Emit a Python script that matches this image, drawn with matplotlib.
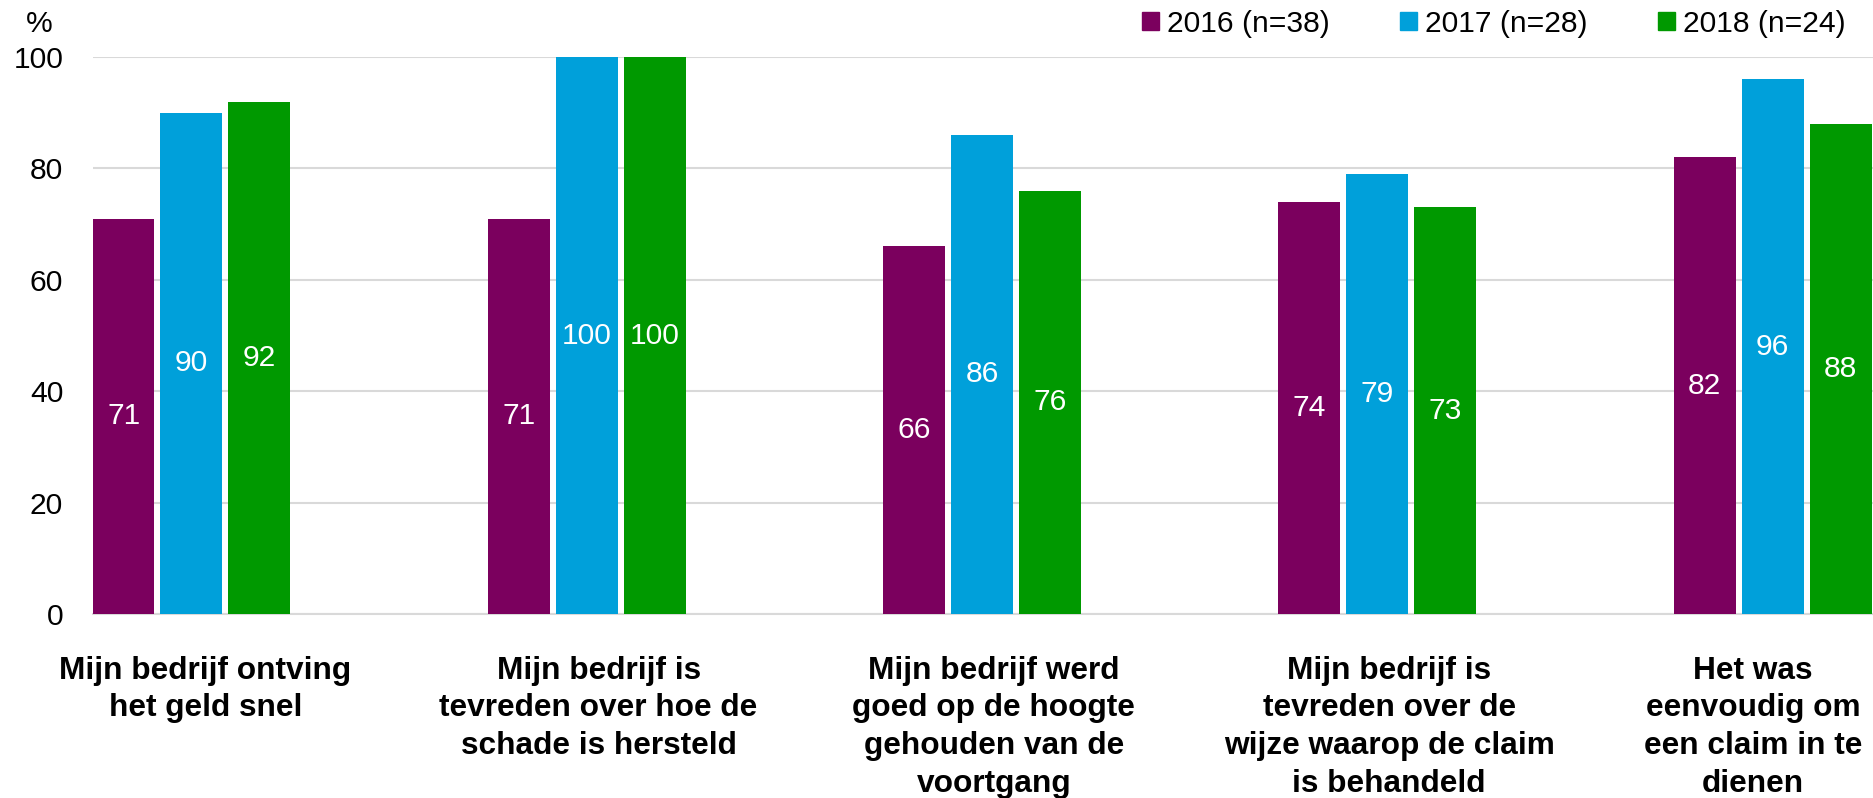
import matplotlib
matplotlib.use('Agg')
import matplotlib.pyplot as plt
from matplotlib.patches import Rectangle
import numpy as np

# dados do gráfico
categorias = [
    'Mijn bedrijf ontving\nhet geld snel',
    'Mijn bedrijf is\ntevreden over hoe de\nschade is hersteld',
    'Mijn bedrijf werd\ngoed op de hoogte\ngehouden van de\nvoortgang',
    'Mijn bedrijf is\ntevreden over de\nwijze waarop de claim\nis behandeld',
    'Het was\neenvoudig om\neen claim in te\ndienen',
]
series = ['2016 (n=38)', '2017 (n=28)', '2018 (n=24)']
v2016 = [71, 71, 66, 74, 82]
v2017 = [90, 100, 86, 79, 96]
v2018 = [92, 100, 76, 73, 88]
cores = ['#7B005E', '#00A0DA', '#009900']
yticks = [0, 20, 40, 60, 80, 100]

plt.rcParams['font.family'] = ['Liberation Sans', 'DejaVu Sans']

fig = plt.figure(figsize=(18.73, 7.98), dpi=100)
fig.subplots_adjust(left=93/1873, right=1.0, top=1-57/798, bottom=1-614/798)
ax = fig.add_subplot(111)

x = np.arange(len(categorias))
largura = 0.157
passo = 0.172
valores = [v2016, v2017, v2018]
for i, (vals, cor, nome) in enumerate(zip(valores, cores, series)):
    barras = ax.bar(x + (i - 1) * passo, vals, largura, color=cor, label=nome,
                    zorder=3)
    ax.bar_label(barras, label_type='center', color='white', fontsize=21.6)

ax.set_xlim(-0.249, 4.254)
ax.set_ylim(0, 100)
ax.set_yticks(yticks)
ax.yaxis.grid(True, color='#d9d9d9', linewidth=1.5, zorder=0)
ax.set_axisbelow(True)
for s in ax.spines.values():
    s.set_visible(False)
ax.tick_params(axis='y', length=0, labelsize=21.6, pad=21.5)
ax.axhline(0, color='#d9d9d9', linewidth=1.5, zorder=1, clip_on=False)

# rótulos das categorias (ligeiramente deslocados como no original)
desloc = [0.035, 0.03, 0.03, 0.03, -0.05]
ax.set_xticks(x + np.array(desloc))
ax.set_xticklabels(categorias, fontsize=22.8, fontweight='bold',
                   linespacing=1.34)
ax.tick_params(axis='x', length=0, pad=30)

fig.text(39/1873, 1-24/798, '%', fontsize=21.6, ha='center', va='center')

handles = [Rectangle((0, 0), 1, 1, color=c) for c in cores]
fig.legend(handles, series, loc='center right',
           bbox_to_anchor=(1846/1873, 1-23.5/798), ncol=3, frameon=False,
           fontsize=21.6, handlelength=0.57, handleheight=0.57,
           handletextpad=0.27, columnspacing=2.35, borderpad=0,
           borderaxespad=0)

plt.savefig('out.png', dpi=100)
